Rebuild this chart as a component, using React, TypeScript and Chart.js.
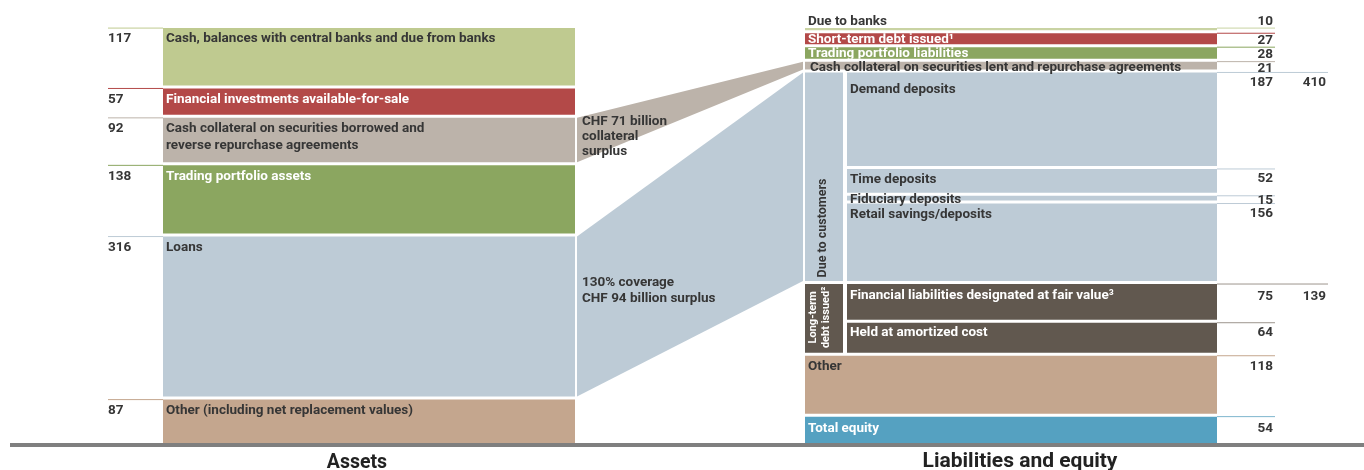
import React, { useEffect, useRef } from 'react';
import { Chart, registerables } from 'chart.js';

Chart.register(...registerables);

// ---------------- data ----------------
const assetCategories = [
  'Cash, balances with central banks and due from banks',
  'Financial investments available-for-sale',
  'Cash collateral on securities borrowed and\nreverse repurchase agreements',
  'Trading portfolio assets',
  'Loans',
  'Other (including net replacement values)',
];
const assetValues = [117, 57, 92, 138, 316, 87];

const liabilityCategories = [
  'Due to banks',
  'Short-term debt issued¹',
  'Trading portfolio liabilities',
  'Cash collateral on securities lent and repurchase agreements',
  'Demand deposits',
  'Time deposits',
  'Fiduciary deposits',
  'Retail savings/deposits',
  'Financial liabilities designated at fair value³',
  'Held at amortized cost',
  'Other',
  'Total equity',
];
const liabilityValues = [10, 27, 28, 21, 187, 52, 15, 156, 75, 64, 118, 54];

const groupCategories = ['Due to customers', 'Long-term\ndebt issued²'];
const groupMembers = [[4, 5, 6, 7], [8, 9]];
const groupTotals = [410, 139];

// bridges: asset index -> liability index (or group)
const bridgeLabels = ['CHF 71 billion\ncollateral\nsurplus', '130% coverage\nCHF 94 billion surplus'];
const bridgeAssetIndex = [2, 4];
const bridgeTargets = [{ item: 3 }, { group: 0 }];

const sideTitles = ['Assets', 'Liabilities and equity'];

// ---------------- layout / style ----------------
const W = 1364;
const H = 470;
const PX_PER_UNIT = 0.516;
const BASE_PX = 443;
const Y_MAX = BASE_PX / PX_PER_UNIT;
const Y_MIN = -(H - BASE_PX) / PX_PER_UNIT;
const HALF_GAP = 1.5 / PX_PER_UNIT;
const BAR_UNITS = 4 / PX_PER_UNIT;

const FONT = 'Roboto, "Open Sans", sans-serif';
const FS = 13.5;
const SX = 1.0;
const DARK = '#363636';
const WHITE = '#ffffff';

const C_CASH = '#bfca90';
const C_RED = '#b34948';
const C_COLL = '#bcb3aa';
const C_TRADE = '#8ba660';
const C_BLUE = '#bdcbd6';
const C_TAN = '#c4a68e';
const C_BROWN = '#61584f';
const C_EQUITY = '#55a1c1';
const C_DUEB = '#c9d3a3';

const A_X0 = 163;
const A_X1 = 575;
const A_RULE_X0 = 108;
const A_VALUE_X = 108;
const A_LABEL_X = 166;
const assetFill = [C_CASH, C_RED, C_COLL, C_TRADE, C_BLUE, C_TAN];
const assetText = [DARK, WHITE, DARK, WHITE, DARK, DARK];

const L_X0 = 805;
const L_SUB_X0 = 847;
const L_GROUP_X1 = 843;
const L_X1 = 1217;
const L_RULE_X1 = 1275;
const L_RULE_LONG_X1 = 1328;
const L_VALUE_X = 1273;
const L_TOTAL_X = 1326;

const B_X0 = 577;
const B_X1 = 803;

type LStyle = { fill: string; text: string; rule: string; sub: boolean; ldy: number; vdy: number; clip?: boolean; longRule?: boolean; lx?: number };
const liabilityStyle: LStyle[] = [
  { fill: C_DUEB, text: DARK, rule: C_DUEB, sub: false, ldy: -6.5, vdy: -6.5 },
  { fill: C_RED, text: WHITE, rule: C_RED, sub: false, ldy: 6.5, vdy: 7, clip: true },
  { fill: C_TRADE, text: WHITE, rule: C_TRADE, sub: false, ldy: 6.5, vdy: 7, clip: true },
  { fill: C_COLL, text: DARK, rule: C_COLL, sub: false, ldy: 6, vdy: 6.5, lx: 810 },
  { fill: C_BLUE, text: DARK, rule: C_BLUE, sub: true, ldy: 17.5, vdy: 10.5, longRule: true },
  { fill: C_BLUE, text: DARK, rule: C_BLUE, sub: true, ldy: 10.5, vdy: 9.5 },
  { fill: C_BLUE, text: DARK, rule: C_BLUE, sub: true, ldy: 3.5, vdy: 5 },
  { fill: C_BLUE, text: DARK, rule: C_BLUE, sub: true, ldy: 11.5, vdy: 10.5 },
  { fill: C_BROWN, text: WHITE, rule: '#9d958e', sub: true, ldy: 11.5, vdy: 12.5, longRule: true },
  { fill: C_BROWN, text: WHITE, rule: '#9d958e', sub: true, ldy: 10, vdy: 10 },
  { fill: C_TAN, text: DARK, rule: C_TAN, sub: false, ldy: 11, vdy: 11 },
  { fill: C_EQUITY, text: WHITE, rule: '#7db5cd', sub: false, ldy: 11.5, vdy: 11.5 },
];
const groupFill = [C_BLUE, C_BROWN];
const groupText = [DARK, WHITE];

// ---------------- geometry from values ----------------
type Block = { top: number; bottom: number };
function stackBlocks(values: number[]): Block[] {
  let below = values.reduce((a, b) => a + b, 0);
  return values.map((v) => {
    const top = below;
    const bottom = below - v;
    below = bottom;
    return { top: top - HALF_GAP, bottom: bottom > 0 ? bottom + HALF_GAP : 0 };
  });
}
const assetBlocks = stackBlocks(assetValues);
const liabBlocks = stackBlocks(liabilityValues);
const groupBlocks: Block[] = groupMembers.map((m) => ({
  top: liabBlocks[m[0]].top,
  bottom: liabBlocks[m[m.length - 1]].bottom,
}));

function rect(x0: number, x1: number, top: number, bottom: number, color: string) {
  return {
    type: 'line' as const,
    data: [{ x: x0, y: top }, { x: x1, y: top }],
    fill: { value: bottom },
    backgroundColor: color,
    borderWidth: 0,
    pointRadius: 0,
    tension: 0,
  };
}
function rule(x0: number, x1: number, y: number, color: string) {
  return {
    type: 'line' as const,
    data: [{ x: x0, y }, { x: x1, y }],
    fill: false,
    borderColor: color,
    borderWidth: 1,
    pointRadius: 0,
    tension: 0,
  };
}

const datasets: any[] = [];
// bridges (trapezoids)
bridgeAssetIndex.forEach((ai, k) => {
  const src = assetBlocks[ai];
  const t = bridgeTargets[k];
  const dst = t.item !== undefined ? liabBlocks[t.item] : groupBlocks[t.group as number];
  const color = assetFill[ai];
  datasets.push({
    type: 'line',
    data: [{ x: B_X0, y: src.top }, { x: B_X1, y: dst.top }],
    fill: '+1',
    backgroundColor: color,
    borderWidth: 0,
    pointRadius: 0,
    tension: 0,
  });
  datasets.push({
    type: 'line',
    data: [{ x: B_X0, y: src.bottom }, { x: B_X1, y: dst.bottom }],
    fill: false,
    borderWidth: 0,
    pointRadius: 0,
    tension: 0,
  });
});
// asset blocks
assetBlocks.forEach((b, i) => {
  datasets.push(rect(A_X0, A_X1, b.top, b.bottom, assetFill[i]));
  datasets.push(rule(A_RULE_X0, A_X0, b.top, assetFill[i]));
});
// liability blocks
liabBlocks.forEach((b, i) => {
  const s = liabilityStyle[i];
  datasets.push(rect(s.sub ? L_SUB_X0 : L_X0, L_X1, b.top, b.bottom, s.fill));
  datasets.push(rule(L_X1, s.longRule ? L_RULE_LONG_X1 : L_RULE_X1, b.top, s.rule));
});
// group label columns
groupBlocks.forEach((b, g) => {
  datasets.push(rect(L_X0, L_GROUP_X1, b.top, b.bottom, groupFill[g]));
});
// baseline bar
datasets.push(rect(10, W, 0, -BAR_UNITS, '#7f7f7f'));

// ---------------- text plugin ----------------
function drawText(
  ctx: CanvasRenderingContext2D,
  text: string,
  x: number,
  y: number,
  o: { color: string; size?: number; align?: CanvasTextAlign; lh?: number; rotate?: number; clip?: [number, number, number, number] }
) {
  const size = o.size ?? FS;
  ctx.save();
  if (o.clip) {
    ctx.beginPath();
    ctx.rect(o.clip[0], o.clip[1], o.clip[2], o.clip[3]);
    ctx.clip();
  }
  ctx.font = `bold ${size}px ${FONT}`;
  ctx.fillStyle = o.color;
  ctx.textBaseline = 'middle';
  ctx.textAlign = o.align ?? 'left';
  ctx.translate(x, y);
  if (o.rotate) ctx.rotate(o.rotate);
  ctx.scale(SX, 1);
  text.split('\n').forEach((ln, i) => ctx.fillText(ln, 0, i * (o.lh ?? 17)));
  ctx.restore();
}

const textPlugin = {
  id: 'balanceText',
  afterDatasetsDraw(chart: any) {
    const ctx: CanvasRenderingContext2D = chart.ctx;
    const xs = chart.scales.x;
    const ys = chart.scales.y;
    const X = (v: number) => xs.getPixelForValue(v);
    const Y = (v: number) => ys.getPixelForValue(v);

    assetBlocks.forEach((b, i) => {
      const top = Y(b.top);
      drawText(ctx, String(assetValues[i]), X(A_VALUE_X), top + 11, { color: DARK });
      drawText(ctx, assetCategories[i], X(A_LABEL_X), top + 11, { color: assetText[i], lh: 17 });
    });

    liabBlocks.forEach((b, i) => {
      const s = liabilityStyle[i];
      const top = Y(b.top);
      const bot = Y(b.bottom);
      const x0 = s.sub ? L_SUB_X0 : L_X0;
      const lx = s.lx ?? (s.sub ? 850 : 808);
      drawText(ctx, liabilityCategories[i], X(lx), top + s.ldy, {
        color: s.text,
        clip: s.clip ? [X(x0), top, X(L_X1) - X(x0), bot - top] : undefined,
      });
      drawText(ctx, String(liabilityValues[i]), X(L_VALUE_X), top + s.vdy, { color: DARK, align: 'right' });
    });

    groupBlocks.forEach((b, g) => {
      const top = Y(b.top);
      const bot = Y(b.bottom);
      const cx = (X(L_X0) + X(L_GROUP_X1)) / 2;
      const firstTop = Y(liabBlocks[groupMembers[g][0]].top);
      if (g === 0) {
        drawText(ctx, groupCategories[g], cx - 1, bot - 53, {
          color: groupText[g], align: 'center', rotate: -Math.PI / 2, size: 12.5,
        });
      } else {
        drawText(ctx, groupCategories[g], cx - 10.5, (top + bot) / 2 - 1, {
          color: groupText[g], align: 'center', rotate: -Math.PI / 2, size: 11, lh: 12.5,
        });
      }
      const vdy = liabilityStyle[groupMembers[g][0]].vdy;
      drawText(ctx, String(groupTotals[g]), X(L_TOTAL_X), firstTop + vdy, { color: DARK, align: 'right' });
    });

    bridgeAssetIndex.forEach((ai, k) => {
      const top = Y(assetBlocks[ai].top);
      drawText(ctx, bridgeLabels[k], X(B_X0 + 5), k === 0 ? top + 4 : top + 46, { color: DARK, lh: k === 0 ? 15 : 16 });
    });

    drawText(ctx, sideTitles[0], X(357), 463, { color: '#222', size: 19.5, align: 'center' });
    drawText(ctx, sideTitles[1], X(1020), 462, { color: '#222', size: 21, align: 'center' });
  },
};

export default function App() {
  const ref = useRef<HTMLCanvasElement>(null);
  useEffect(() => {
    document.body.style.margin = '0';
    const canvas = ref.current;
    if (!canvas) return;
    const chart = new Chart(canvas, {
      type: 'line',
      data: { datasets },
      options: {
        animation: false,
        responsive: true,
        maintainAspectRatio: false,
        layout: { padding: 0 },
        events: [],
        plugins: { legend: { display: false }, tooltip: { enabled: false } },
        scales: {
          x: { type: 'linear', display: false, min: 0, max: W },
          y: { type: 'linear', display: false, min: Y_MIN, max: Y_MAX },
        },
      },
      plugins: [textPlugin],
    } as any);
    return () => chart.destroy();
  }, []);
  return (
    <div style={{ width: W, height: H, position: 'relative', background: '#fff' }}>
      <canvas ref={ref} />
    </div>
  );
}
